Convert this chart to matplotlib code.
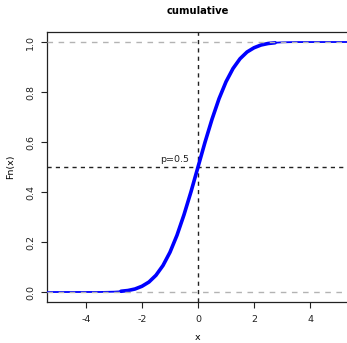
import matplotlib
matplotlib.use("Agg")
import matplotlib.pyplot as plt

xs = [-5.4, -3.5, -3.0, -2.75, -2.5, -2.25, -2.0, -1.75, -1.5, -1.25, -1.0, -0.75,
      -0.5, -0.25, 0.0, 0.25, 0.5, 0.75, 1.0, 1.25, 1.5, 1.75, 2.0, 2.25, 2.5,
      2.75, 3.0, 3.5, 5.4]
fn = [0.0, 0.0002, 0.0013, 0.003, 0.006, 0.012, 0.023, 0.040, 0.067, 0.106, 0.159, 0.227,
      0.309, 0.401, 0.500, 0.599, 0.691, 0.773, 0.841, 0.894, 0.933, 0.960, 0.977, 0.988, 0.994,
      0.997, 0.9987, 0.9998, 1.0]
steep_lo, steep_hi = -2.75, 2.75

x_ticks = [-4, -2, 0, 2, 4]
y_ticks = [0.0, 0.2, 0.4, 0.6, 0.8, 1.0]
y_labels = ["0.0", "0.2", "0.4", "0.6", "0.8", "1.0"]

fig = plt.figure(figsize=(3.47, 3.43), dpi=100)
ax = fig.add_axes([0.1346, 0.1195, 0.872, 0.7872])

# thin tails + thick middle (where the dots pile up)
ax.plot(xs, fn, color="blue", lw=1.3, solid_capstyle="butt", zorder=3)
mid = [(a, b) for a, b in zip(xs, fn) if steep_lo <= a <= steep_hi]
ax.plot([m[0] for m in mid], [m[1] for m in mid], color="blue", lw=2.6,
        solid_capstyle="round", zorder=3)

# 0/1 reference lines
for h in (0, 1):
    ax.axhline(h, color="#b3b3b3", lw=1.0, ls=(0, (4, 4)), zorder=4)

# median lines
ax.axvline(0, color="#222222", lw=1.0, ls=(0, (3, 3)), zorder=2)
ax.axhline(0.5, color="#222222", lw=1.0, ls=(0, (3, 3)), zorder=2)
ax.text(-0.32, 0.512, "p=0.5", fontsize=6.8, ha="right", va="bottom", color="#222222")

ax.set_xlim(-5.4, 5.4)
ax.set_ylim(-0.04, 1.04)
ax.set_xticks(x_ticks)
ax.set_xticklabels([str(t) for t in x_ticks])
ax.set_yticks(y_ticks)
ax.set_yticklabels(y_labels, rotation=90, va="center")
ax.tick_params(labelsize=6.8, length=4.3, width=0.8, colors="#222222", pad=5)
ax.tick_params(axis="y", pad=4)
for s in ax.spines.values():
    s.set_linewidth(0.9)
    s.set_color("#222222")

ax.set_xlabel("x", fontsize=6.8)
ax.xaxis.set_label_coords(0.5, -0.115)
ax.set_ylabel("Fn(x)", fontsize=6.8, labelpad=8)
ax.set_title("cumulative", fontsize=7.2, fontweight="bold", pad=13)

fig.savefig("out.png", dpi=100)
